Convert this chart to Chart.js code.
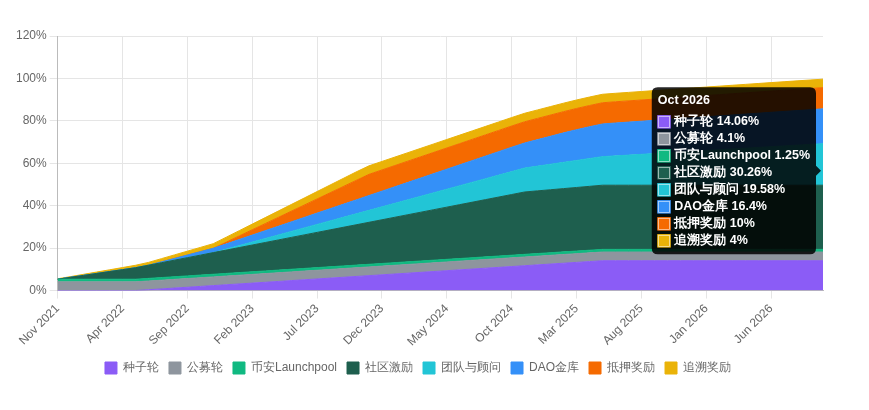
<!DOCTYPE html>
<html><head><meta charset="utf-8">
<script src="https://cdn.jsdelivr.net/npm/chart.js@4"></script>
<style>html,body{margin:0;padding:0;background:#fff}#w{width:869px;height:410px}</style>
</head><body><div id="w"><canvas id="c"></canvas></div>
<script>
const monthNames=["Jan","Feb","Mar","Apr","May","Jun","Jul","Aug","Sep","Oct","Nov","Dec"];
const labels=[];
for(let i=0;i<60;i++){const m=(10+i)%12, y=2021+Math.floor((10+i)/12);labels.push(monthNames[m]+" "+y);}
const seriesNames=["种子轮","公募轮","币安Launchpool","社区激励","团队与顾问","DAO金库","抵押奖励","追溯奖励"];
const colors=["#8b5cf6","#8e959e","#10b981","#1e5f4e","#22c5d6","#3490f8","#f56a00","#eab308"];
const seed=[0,0,0,0,0,0,0,0.39,0.78,1.17,1.56,1.95,2.34,2.73,3.12,3.51,3.9,4.29,4.69,5.08,5.47,5.86,6.25,6.64,7.03,7.42,7.81,8.2,8.59,8.98,9.37,9.76,10.15,10.54,10.93,11.32,11.72,12.11,12.5,12.89,13.28,13.67,14.06,14.06,14.06,14.06,14.06,14.06,14.06,14.06,14.06,14.06,14.06,14.06,14.06,14.06,14.06,14.06,14.06,14.06];
const publicSale=[4.1,4.1,4.1,4.1,4.1,4.1,4.1,4.1,4.1,4.1,4.1,4.1,4.1,4.1,4.1,4.1,4.1,4.1,4.1,4.1,4.1,4.1,4.1,4.1,4.1,4.1,4.1,4.1,4.1,4.1,4.1,4.1,4.1,4.1,4.1,4.1,4.1,4.1,4.1,4.1,4.1,4.1,4.1,4.1,4.1,4.1,4.1,4.1,4.1,4.1,4.1,4.1,4.1,4.1,4.1,4.1,4.1,4.1,4.1,4.1];
const launchpool=[1.25,1.25,1.25,1.25,1.25,1.25,1.25,1.25,1.25,1.25,1.25,1.25,1.25,1.25,1.25,1.25,1.25,1.25,1.25,1.25,1.25,1.25,1.25,1.25,1.25,1.25,1.25,1.25,1.25,1.25,1.25,1.25,1.25,1.25,1.25,1.25,1.25,1.25,1.25,1.25,1.25,1.25,1.25,1.25,1.25,1.25,1.25,1.25,1.25,1.25,1.25,1.25,1.25,1.25,1.25,1.25,1.25,1.25,1.25,1.25];
const community=[0,0.9,1.8,2.7,3.6,4.5,5.4,6.2,7.0,7.8,8.6,9.4,10.2,11.0,11.8,12.6,13.4,14.2,15.0,15.8,16.6,17.4,18.2,19.0,19.8,20.6,21.4,22.2,23.0,23.8,24.6,25.4,26.2,27.0,27.8,28.6,29.4,29.54,29.68,29.82,29.96,30.11,30.26,30.26,30.26,30.26,30.26,30.26,30.26,30.26,30.26,30.26,30.26,30.26,30.26,30.26,30.26,30.26,30.26,30.26];
const team=[0,0,0,0,0,0,0,0,0,0,0,0,0,0.47,0.94,1.41,1.88,2.35,2.82,3.29,3.76,4.23,4.7,5.17,5.64,6.11,6.58,7.05,7.52,7.99,8.46,8.93,9.4,9.87,10.34,10.81,11.3,11.66,12.02,12.38,12.74,13.1,13.46,13.82,14.18,14.54,14.9,15.26,15.62,15.98,16.34,16.7,17.06,17.42,17.78,18.14,18.5,18.86,19.22,19.58];
const dao=[0,0,0,0,0,0,0,0,0.41,0.82,1.23,1.64,2.05,2.46,2.87,3.28,3.69,4.1,4.51,4.92,5.33,5.74,6.15,6.56,6.97,7.38,7.79,8.2,8.61,9.02,9.43,9.84,10.25,10.66,11.07,11.48,11.8,12.5,13.2,13.9,14.5,15.0,15.4,15.5,15.56,15.62,15.68,15.74,15.8,15.86,15.92,15.98,16.04,16.1,16.16,16.22,16.28,16.32,16.36,16.4];
const staking=[0,0,0,0,0,0,0,0,0,0,0,0,0,0.83,1.67,2.5,3.33,4.17,5,5.83,6.67,7.5,8.33,9.17,10,10,10,10,10,10,10,10,10,10,10,10,10,10,10,10,10,10,10,10,10,10,10,10,10,10,10,10,10,10,10,10,10,10,10,10];
const retro=[0.2,0.33,0.5,0.67,0.83,1,1.17,1.33,1.5,1.67,1.83,2,2.17,2.33,2.5,2.67,2.83,3,3.17,3.33,3.5,3.67,3.83,4,4,4,4,4,4,4,4,4,4,4,4,4,4,4,4,4,4,4,4,4,4,4,4,4,4,4,4,4,4,4,4,4,4,4,4,4];
const allData=[seed,publicSale,launchpool,community,team,dao,staking,retro];
const yTicks=[0,20,40,60,80,100,120];

const ds=seriesNames.map((n,k)=>({label:n,data:allData[k],backgroundColor:colors[k],borderColor:colors[k],borderWidth:1,pointRadius:0,pointHoverRadius:0,fill:k===0?'origin':'-1',tension:0}));
const chart=new Chart(document.getElementById('c'),{
 type:'line',data:{labels:labels,datasets:ds},
 options:{responsive:true,maintainAspectRatio:false,animation:false,
  layout:{padding:{top:36,right:46,left:13,bottom:26}},
  interaction:{mode:'index',intersect:false},
  scales:{
   x:{grid:{color:'#e5e5e5'},border:{color:'#bbb'},ticks:{color:'#666',font:{size:12},maxRotation:45,minRotation:45,autoSkip:false,callback:function(v,i){return i%5===0?labels[i]:null;}}},
   y:{stacked:true,min:0,max:120,grid:{color:'#e5e5e5'},border:{color:'#bbb'},ticks:{color:'#666',font:{size:12},stepSize:20,callback:v=>v+'%'}}
  },
  plugins:{
   legend:{position:'bottom',labels:{color:'#666',font:{size:12},boxWidth:12,boxHeight:12,padding:10}},
   tooltip:{backgroundColor:'rgba(0,0,0,0.85)',titleFont:{size:12.5,weight:'bold'},bodyFont:{size:12.5,weight:'bold'},boxPadding:2,padding:6,
     callbacks:{label:c=>c.dataset.label+' '+c.parsed.y+'%'},
     filter:()=>true}
  }
 }
});
const els=ds.map((d,k)=>({datasetIndex:k,index:59}));
chart.tooltip.setActiveElements(els,{x:822,y:172});
chart.update();
</script></body></html>
